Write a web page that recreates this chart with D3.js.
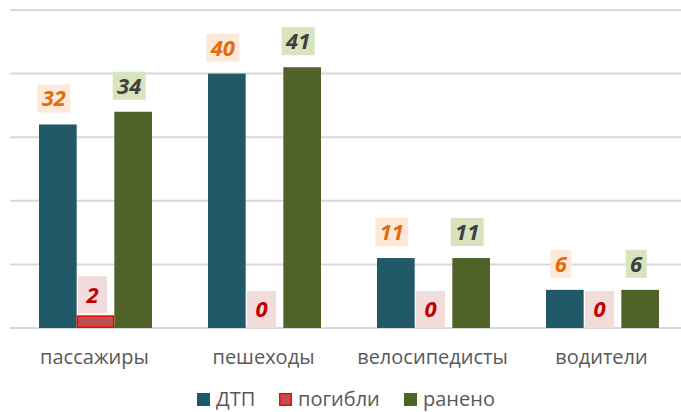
<!DOCTYPE html>
<html>
<head>
<meta charset="utf-8">
<script src="https://cdn.jsdelivr.net/npm/d3@7"></script>
<style>
  body { margin: 0; background: #fff; }
  svg { display: block; font-family: "Open Sans", "Noto Sans", sans-serif; }
</style>
</head>
<body>
<svg width="681" height="412"></svg>
<script>
// data
const categories = ["пассажиры", "пешеходы", "велосипедисты", "водители"];
const seriesNames = ["ДТП", "погибли", "ранено"];
const dtp = [32, 40, 11, 6];
const killed = [2, 0, 0, 0];
const injured = [34, 41, 11, 6];
const gridTicks = [0, 10, 20, 30, 40, 50];

// looks for each series
const fills = ["#215968", "#c0504d", "#4f6228"];
const strokes = [null, "#ff0000", null];
const labelColor = ["#e46c0a", "#c00000", "#404040"];
const labelBg = ["#fde9d9", "#f2dcdb", "#d7e4bd"];

const values = [dtp, killed, injured];

const svg = d3.select("svg");

// scales
const x0 = d3.scaleBand().domain(categories).range([11, 687]);
const x1 = d3.scaleBand().domain(seriesNames).range([28, 141]);
const y = d3.scaleLinear().domain([0, 50]).range([328, 10]);

// gridlines
svg.append("g")
  .selectAll("line")
  .data(gridTicks)
  .enter()
  .append("line")
  .attr("x1", 10)
  .attr("x2", 681)
  .attr("y1", d => y(d))
  .attr("y2", d => y(d))
  .attr("stroke", "#d9d9d9")
  .attr("stroke-width", 2);

// one flat list of bars
const bars = [];
categories.forEach((c, i) => {
  seriesNames.forEach((s, j) => {
    bars.push({cat: c, s: s, j: j, v: values[j][i]});
  });
});

const gBars = svg.append("g");
gBars.selectAll("rect")
  .data(bars.filter(d => d.v > 0))
  .enter()
  .append("rect")
  .attr("x", d => x0(d.cat) + x1(d.s) + (d.j === 1 ? 0.75 : 0))
  .attr("y", d => y(d.v) + (d.j === 1 ? 0.75 : 0))
  .attr("width", d => x1.bandwidth() - (d.j === 1 ? 1.5 : 0))
  .attr("height", d => y(0) - y(d.v) - (d.j === 1 ? 1.5 : 0))
  .attr("fill", d => fills[d.j])
  .attr("stroke", d => strokes[d.j])
  .attr("stroke-width", 1.5);

// data labels with their little background boxes
const gLab = svg.append("g")
  .style("font-weight", "bold")
  .style("font-style", "italic")
  .style("font-size", "22px");

bars.forEach(d => {
  const txt = String(d.v);
  const cx = x0(d.cat) + x1(d.s) + x1.bandwidth() / 2 + (d.j === 1 ? -3 : -4);
  let boxW, boxH, bottom;
  if (d.j === 1) {
    boxW = 29; boxH = 37; bottom = y(d.v) - (d.v > 0 ? 2 : 0);
  } else {
    boxW = txt.length > 1 ? 33 : 21; boxH = 28; bottom = y(d.v) - 12;
  }
  gLab.append("rect")
    .attr("x", cx - boxW / 2)
    .attr("y", bottom - boxH)
    .attr("width", boxW)
    .attr("height", boxH)
    .attr("fill", labelBg[d.j]);
  gLab.append("text")
    .attr("x", cx)
    .attr("y", bottom - boxH / 2)
    .attr("dy", "0.36em")
    .attr("text-anchor", "middle")
    .attr("fill", labelColor[d.j])
    .text(txt);
});

// category axis labels
svg.append("g")
  .selectAll("text")
  .data(categories)
  .enter()
  .append("text")
  .attr("x", d => x0(d) + x0.bandwidth() / 2 - 1)
  .attr("y", 364)
  .attr("text-anchor", "middle")
  .attr("fill", "#595959")
  .style("font-size", "20px")
  .text(d => d);

// legend
const legendX = [197, 279, 404];
const leg = svg.append("g");
seriesNames.forEach((s, j) => {
  leg.append("rect")
    .attr("x", legendX[j] + (j === 1 ? 0.75 : 0))
    .attr("y", 393 + (j === 1 ? 0.75 : 0))
    .attr("width", 13 - (j === 1 ? 1.5 : 0))
    .attr("height", 13 - (j === 1 ? 1.5 : 0))
    .attr("fill", fills[j])
    .attr("stroke", strokes[j])
    .attr("stroke-width", 1.5);
  leg.append("text")
    .attr("x", legendX[j] + 19)
    .attr("y", 406)
    .attr("fill", "#595959")
    .style("font-size", "20px")
    .text(s);
});
</script>
</body>
</html>
